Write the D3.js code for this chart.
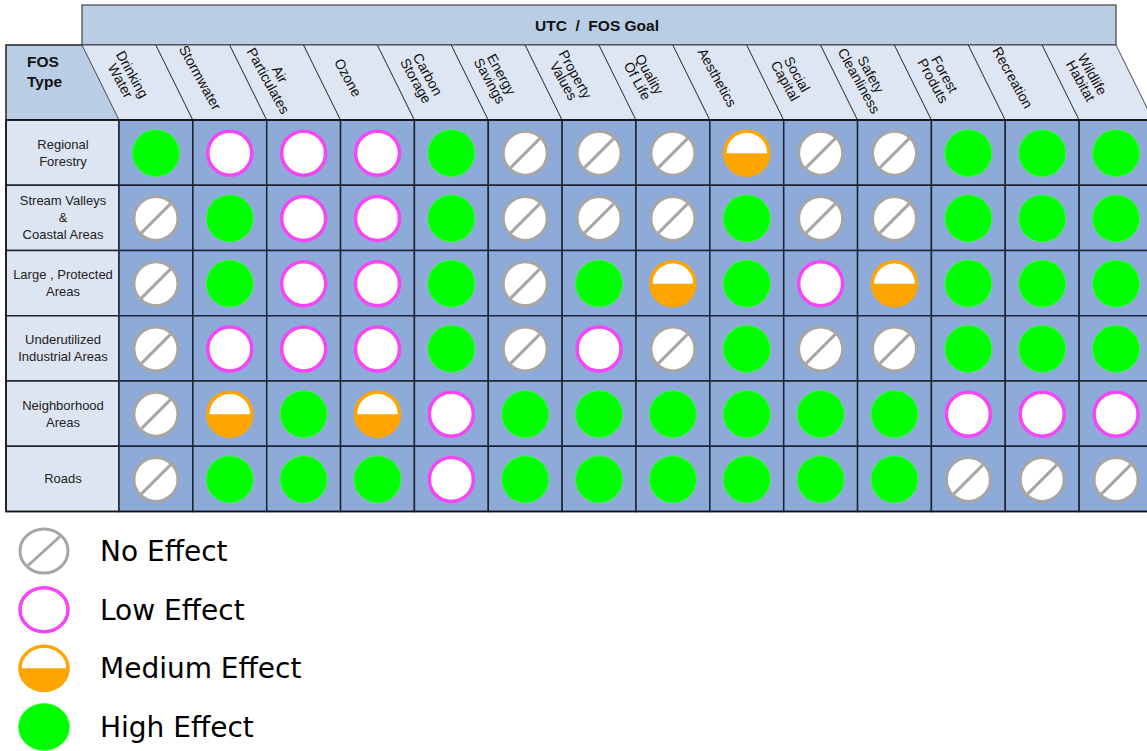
<!DOCTYPE html>
<html><head><meta charset="utf-8">
<script src="https://cdn.jsdelivr.net/npm/d3@7"></script>
<style>body{margin:0;background:#fff;} svg{display:block}</style>
</head><body><svg id="c" width="1147" height="751"></svg>
<script>
const title = "UTC  /  FOS Goal";
const cornerLabel = ["FOS", "Type"];
const goals = ["Drinking\nWater", "Stormwater", "Air\nParticulates", "Ozone", "Carbon\nStorage",
  "Energy\nSavings", "Property\nValues", "Quality\nOf Life", "Aesthetics", "Social\nCapital",
  "Safety\nCleanliness", "Forest\nProduts", "Recreation", "Wildlife\nHabitat"];
const fosTypes = ["Regional\nForestry", "Stream Valleys\n&\nCoastal Areas", "Large ,  Protected\nAreas",
  "Underutilized\nIndustrial Areas", "Neighborhood\nAreas", "Roads"];
const levels = ["No Effect", "Low Effect", "Medium Effect", "High Effect"];
// 0 = No, 1 = Low, 2 = Medium, 3 = High
const effects = [
  [3,1,1,1,3,0,0,0,2,0,0,3,3,3],
  [0,3,1,1,3,0,0,0,3,0,0,3,3,3],
  [0,3,1,1,3,0,3,2,3,1,2,3,3,3],
  [0,1,1,1,3,0,1,0,3,0,0,3,3,3],
  [0,2,3,2,1,3,3,3,3,3,3,1,1,1],
  [0,3,3,3,1,3,3,3,3,3,3,0,0,0]
];

const svg = d3.select("#c");
const C = {grid:"#1c2333", cell:"#8eaad8", rowLab:"#dde5f2", head:"#dfe6f3", title:"#b9cde5",
  green:"#00ff00", magenta:"#f545f5", orange:"#ffa500", gray:"#a6a6a6"};

const left = 6, bodyX = 119, bodyRight = 1153, top0 = 5, headTop = 45, headBot = 120, bodyBot = 511.5;
const slant = 37;

const x = d3.scaleBand().domain(goals).range([bodyX, bodyRight]);
const y = d3.scaleBand().domain(fosTypes).range([headBot, bodyBot]);
const bw = x.bandwidth(), bh = y.bandwidth();

// Title box
svg.append("rect").attr("x", bodyX - slant).attr("y", top0)
  .attr("width", (bodyRight - slant) - (bodyX - slant)).attr("height", headTop - top0)
  .attr("fill", C.title).attr("stroke", "#444").attr("stroke-width", 1.2);
svg.append("text").attr("x", 597).attr("y", 31).attr("text-anchor", "middle")
  .style("white-space", "pre").attr("font-family", "Liberation Sans, Arial").attr("font-weight", "bold")
  .attr("font-size", 15.5).attr("fill", "#111").text(title);

// Corner cell
svg.append("polygon")
  .attr("points", [[left, headTop], [bodyX - slant, headTop], [bodyX, headBot], [left, headBot]].join(" "))
  .attr("fill", C.title).attr("stroke", "none");
svg.append("polyline")
  .attr("points", [[left, headBot], [left, headTop], [bodyX - slant, headTop]].join(" "))
  .attr("fill", "none").attr("stroke", "#222").attr("stroke-width", 1.5);
svg.append("text").attr("x", 27).attr("y", 67).attr("font-family", "Liberation Sans, Arial")
  .attr("font-weight", "bold").attr("font-size", 15.5).attr("fill", "#111")
  .selectAll("tspan").data(cornerLabel).join("tspan")
  .attr("x", 27).attr("dy", (d, i) => i ? 19.5 : 0).text(d => d);

// Column headers (slanted)
const hg = svg.append("g");
goals.forEach(g => {
  const x0 = x(g), x1 = x0 + bw;
  hg.append("polygon")
    .attr("points", [[x0 - slant, headTop], [x1 - slant, headTop], [x1, headBot], [x0, headBot]].join(" "))
    .attr("fill", C.head).attr("stroke", "#222").attr("stroke-width", 0.8);
  const lines = g.split("\n");
  const cx = x0 + bw / 2 - slant / 2 - 11, cy = (headTop + headBot) / 2 - 5;
  const t = hg.append("text").attr("transform", `translate(${cx},${cy}) rotate(61)`)
    .attr("text-anchor", "middle").attr("font-family", "Liberation Sans, Arial")
    .attr("font-size", 14).attr("fill", "#111");
  const lh = 13.5;
  lines.forEach((l, i) => {
    t.append("tspan").attr("x", 0).attr("y", (i - (lines.length - 1) / 2) * lh + 5).text(l);
  });
});
svg.append("line").attr("x1", left).attr("x2", bodyRight).attr("y1", headBot).attr("y2", headBot)
  .attr("stroke", "#222").attr("stroke-width", 1.5);

// Row labels
fosTypes.forEach(f => {
  svg.append("rect").attr("x", left).attr("y", y(f)).attr("width", bodyX - left).attr("height", bh)
    .attr("fill", C.rowLab).attr("stroke", C.grid).attr("stroke-width", 1.5);
  const lines = f.split("\n");
  const t = svg.append("text").attr("text-anchor", "middle").attr("font-family", "Liberation Sans, Arial")
    .attr("font-size", 13).attr("fill", "#222");
  const lh = 17;
  lines.forEach((l, i) => {
    t.append("tspan").attr("x", (left + bodyX) / 2 + 0.5)
      .attr("y", y(f) + bh / 2 + (i - (lines.length - 1) / 2) * lh + 4.5).text(l);
  });
});

// Symbol drawing
function drawSymbol(g, level, rx, ry) {
  const sw = 3;
  if (level === 3) {
    g.append("ellipse").attr("rx", rx).attr("ry", ry).attr("fill", C.green)
      .attr("stroke", "#3cff3c").attr("stroke-width", 0.8);
  } else if (level === 1) {
    g.append("ellipse").attr("rx", rx - sw / 2).attr("ry", ry - sw / 2).attr("fill", "#fff")
      .attr("stroke", C.magenta).attr("stroke-width", sw + 0.5);
  } else if (level === 0) {
    g.append("ellipse").attr("rx", rx - sw / 2).attr("ry", ry - sw / 2).attr("fill", "#fff")
      .attr("stroke", C.gray).attr("stroke-width", sw);
    const a = Math.SQRT1_2;
    g.append("line").attr("x1", -(rx - sw) * a).attr("y1", (ry - sw) * a)
      .attr("x2", (rx - sw) * a).attr("y2", -(ry - sw) * a)
      .attr("stroke", C.gray).attr("stroke-width", sw);
  } else {
    const r1 = rx - sw / 2, r2 = ry - sw / 2;
    g.append("ellipse").attr("rx", r1).attr("ry", r2).attr("fill", "#fff")
      .attr("stroke", C.orange).attr("stroke-width", sw + 0.5);
    g.append("path").attr("d", `M${-rx},0 A${rx},${ry} 0 0 0 ${rx},0 Z`).attr("fill", C.orange);
  }
}

// Body cells
fosTypes.forEach((f, ri) => {
  goals.forEach((g, ci) => {
    svg.append("rect").attr("x", x(g)).attr("y", y(f)).attr("width", bw).attr("height", bh)
      .attr("fill", C.cell).attr("stroke", C.grid).attr("stroke-width", 1.5);
  });
});
fosTypes.forEach((f, ri) => {
  goals.forEach((g, ci) => {
    const s = svg.append("g").attr("transform", `translate(${x(g) + bw / 2},${y(f) + bh / 2 + 0.5})`);
    drawSymbol(s, effects[ri][ci], 23.5, 23.5);
  });
});
svg.append("rect").attr("x", left).attr("y", headBot).attr("width", bodyRight - left)
  .attr("height", bodyBot - headBot).attr("fill", "none").attr("stroke", "#111").attr("stroke-width", 1.5);

// Legend
const legY = d3.scalePoint().domain(levels).range([551, 727]);
levels.forEach((l, i) => {
  const g = svg.append("g").attr("transform", `translate(44,${legY(l)})`);
  drawSymbol(g, i, 25.5, 23.5);
  svg.append("text").attr("x", 100).attr("y", legY(l) + 10).attr("font-family", "DejaVu Sans")
    .attr("font-size", 28).attr("fill", "#000").text(l);
});
</script></body></html>
